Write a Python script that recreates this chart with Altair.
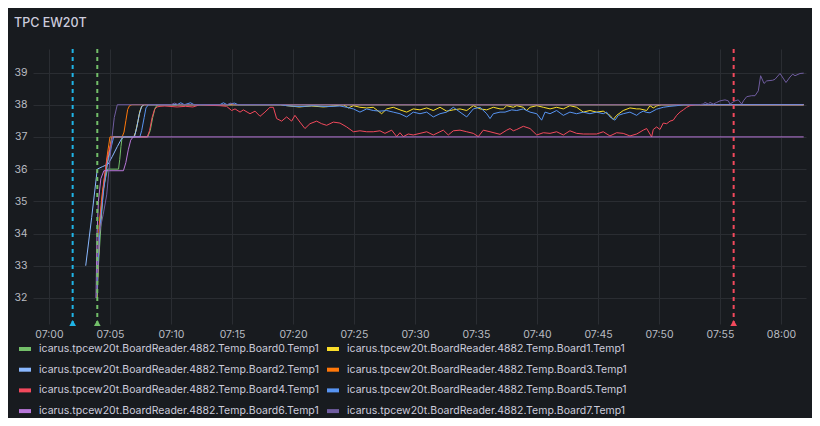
import altair as alt
import pandas as pd

# ---------------- data ----------------
series_names = [
    "icarus.tpcew20t.BoardReader.4882.Temp.Board0.Temp1",
    "icarus.tpcew20t.BoardReader.4882.Temp.Board1.Temp1",
    "icarus.tpcew20t.BoardReader.4882.Temp.Board2.Temp1",
    "icarus.tpcew20t.BoardReader.4882.Temp.Board3.Temp1",
    "icarus.tpcew20t.BoardReader.4882.Temp.Board4.Temp1",
    "icarus.tpcew20t.BoardReader.4882.Temp.Board5.Temp1",
    "icarus.tpcew20t.BoardReader.4882.Temp.Board6.Temp1",
    "icarus.tpcew20t.BoardReader.4882.Temp.Board7.Temp1",
]
series_colors = ["#73bf69", "#fade2a", "#8ab8ff", "#ff780a",
                 "#f2495c", "#5794f2", "#b877d9", "#705da0"]

# (minutes after 07:00, temperature)
board0 = [(3.95, 32.0), (4.05, 33.0), (4.25, 34.2), (4.45, 35.4), (4.8, 36.0), (5.7, 36.0),
          (5.8, 36.3), (5.9, 36.7), (6.0, 37.0), (8.1, 37.0), (8.3, 37.2), (8.5, 37.6),
          (8.7, 37.9), (8.9, 38.0), (61.86, 38.0)]

board1 = [(3.92, 32.0), (4.02, 33.0), (4.15, 34.0), (4.4, 35.2), (4.7, 36.0), (5.15, 37.0),
          (6.95, 37.0), (7.1, 37.15), (7.3, 37.5), (7.45, 37.8), (7.6, 37.95), (7.8, 38.0),
          (19.0, 38.0), (19.5, 37.97), (20.5, 37.93), (21.5, 37.96), (22.5, 37.93), (23.3, 37.96),
          (24.13, 38.0), (24.54, 37.90), (24.95, 37.97), (25.49, 37.92), (26.04, 37.90),
          (26.58, 37.92), (27.27, 37.72), (27.68, 37.87), (28.22, 37.92), (28.77, 37.84),
          (29.32, 37.77), (29.86, 37.87), (30.41, 37.84), (30.96, 37.90), (31.50, 37.82),
          (32.05, 37.92), (32.60, 37.80), (33.14, 37.84), (33.69, 37.87), (34.24, 37.82),
          (34.78, 37.97), (35.33, 37.87), (35.88, 37.84), (36.42, 37.92), (36.97, 37.87),
          (37.24, 37.87), (37.52, 37.97), (38.06, 37.92), (38.34, 37.97), (38.88, 37.92),
          (39.15, 37.82), (39.43, 37.92), (39.98, 37.97), (40.52, 37.92), (41.07, 37.87),
          (41.61, 37.92), (42.16, 37.87), (42.70, 37.97), (43.25, 37.92), (43.80, 37.77),
          (44.34, 37.82), (44.89, 37.77), (45.43, 37.80), (45.98, 37.67), (46.25, 37.54),
          (46.53, 37.67), (47.07, 37.82), (47.62, 37.90), (48.17, 37.87), (48.44, 37.87),
          (48.99, 37.82), (49.26, 37.97), (49.53, 37.90), (49.81, 37.96), (50.2, 38.0),
          (61.86, 38.0)]

board2 = [(3.01, 33.0), (3.5, 34.5), (3.96, 36.0), (4.4, 36.08), (4.84, 36.15), (5.2, 36.4),
          (5.6, 36.7), (5.96, 36.95), (6.2, 37.0), (7.0, 37.0), (7.2, 37.3), (7.4, 37.7),
          (7.6, 37.95), (7.8, 38.0), (61.86, 38.0)]

board3 = [(3.9, 32.1), (4.0, 33.0), (4.1, 34.2), (4.35, 35.2), (4.6, 35.9), (4.8, 36.5),
          (5.0, 37.0), (6.0, 37.0), (6.15, 37.15), (6.3, 37.5), (6.45, 37.85), (6.6, 37.97),
          (6.8, 38.0), (61.86, 38.0)]

board4 = [(3.95, 32.2), (4.05, 33.2), (4.2, 34.5), (4.5, 35.6), (4.75, 36.3), (5.2, 37.0),
          (8.05, 37.0), (8.25, 37.2), (8.45, 37.6), (8.65, 37.85), (8.85, 37.93), (9.1, 37.95),
          (9.5, 37.96), (10.5, 37.93), (11.2, 37.95), (11.8, 37.93), (12.38, 38.0), (13.2, 37.98),
          (14.02, 37.97), (14.56, 37.95), (14.97, 37.82), (15.25, 37.87), (15.66, 37.77),
          (15.93, 37.84), (16.48, 37.72), (16.89, 37.80), (17.30, 37.64), (17.70, 37.77),
          (18.11, 37.92), (18.39, 37.92), (18.66, 37.57), (19.07, 37.49), (19.48, 37.62),
          (19.89, 37.49), (20.16, 37.67), (20.57, 37.46), (20.98, 37.26), (21.39, 37.41),
          (21.94, 37.49), (22.35, 37.41), (22.76, 37.36), (23.31, 37.46), (23.85, 37.43),
          (24.40, 37.31), (24.95, 37.16), (25.49, 37.19), (26.04, 37.16), (26.58, 37.16),
          (27.13, 37.19), (27.54, 37.11), (28.09, 37.21), (28.50, 37.01), (28.77, 37.13),
          (29.04, 37.01), (29.45, 37.09), (29.86, 37.06), (30.41, 37.11), (30.96, 37.16),
          (31.50, 37.06), (32.05, 37.16), (32.32, 37.21), (32.73, 37.06), (33.14, 37.19),
          (33.69, 37.21), (34.24, 37.16), (34.78, 37.11), (35.19, 37.01), (35.60, 37.21),
          (36.15, 37.16), (36.97, 37.08), (37.52, 37.21), (37.79, 37.26), (38.06, 37.19),
          (38.34, 37.23), (38.88, 37.33), (39.43, 37.26), (39.98, 37.06), (40.52, 37.13),
          (41.07, 37.11), (41.61, 37.16), (42.16, 37.06), (42.70, 37.19), (43.25, 37.11),
          (43.80, 37.09), (44.34, 37.09), (44.89, 37.09), (45.43, 37.16), (45.98, 37.03),
          (46.53, 37.13), (47.07, 37.11), (47.62, 37.03), (48.17, 37.09), (48.71, 37.21),
          (48.99, 37.26), (49.40, 37.0), (49.53, 37.23), (49.81, 37.31), (50.08, 37.23),
          (50.35, 37.43), (50.63, 37.41), (50.90, 37.49), (51.17, 37.52), (51.45, 37.67),
          (51.72, 37.77), (51.99, 37.84), (52.27, 37.92), (52.54, 37.97), (53.0, 38.0),
          (61.86, 38.0)]

board5 = [(3.93, 32.1), (4.03, 33.1), (4.2, 34.3), (4.5, 35.4), (4.8, 36.2), (5.3, 37.0),
          (7.45, 37.0), (7.6, 37.2), (7.8, 37.6), (7.95, 37.9), (8.15, 38.0), (10.5, 38.0),
          (10.8, 38.06), (11.1, 38.0), (11.6, 38.06), (11.9, 38.0), (14.0, 38.0), (14.3, 38.06),
          (14.6, 38.0), (15.2, 38.05), (15.5, 38.0), (19.0, 38.0), (19.48, 37.97), (20.57, 37.94),
          (21.67, 37.97), (22.76, 37.94), (23.85, 37.96), (24.40, 37.92), (24.95, 37.87),
          (25.49, 37.77), (26.04, 37.87), (26.58, 37.82), (27.13, 37.80), (27.68, 37.82),
          (28.22, 37.77), (28.77, 37.72), (29.32, 37.62), (29.86, 37.77), (30.41, 37.72),
          (30.96, 37.77), (31.50, 37.62), (32.05, 37.72), (32.60, 37.77), (33.14, 37.92),
          (33.69, 37.77), (34.24, 37.62), (34.78, 37.87), (35.33, 37.92), (35.88, 37.72),
          (36.15, 37.57), (36.42, 37.72), (36.97, 37.77), (37.38, 37.77), (37.93, 37.84),
          (38.34, 37.82), (38.88, 37.87), (39.43, 37.77), (39.98, 37.72), (40.38, 37.52),
          (40.66, 37.77), (41.07, 37.72), (41.61, 37.82), (42.16, 37.67), (42.70, 37.77),
          (43.25, 37.72), (43.80, 37.77), (44.34, 37.72), (44.89, 37.77), (45.43, 37.72),
          (45.71, 37.77), (45.98, 37.62), (46.39, 37.52), (46.67, 37.67), (47.07, 37.72),
          (47.62, 37.77), (48.17, 37.67), (48.44, 37.75), (48.71, 37.80), (48.99, 37.76),
          (49.26, 37.75), (49.80, 37.86), (50.35, 37.92), (50.90, 37.95), (51.45, 37.97),
          (52.0, 38.0), (61.86, 38.0)]

board6 = [(3.86, 32.0), (3.93, 33.9), (4.05, 35.0), (4.25, 35.7), (4.5, 35.95), (6.1, 35.95),
          (6.3, 36.2), (6.5, 36.6), (6.7, 36.9), (6.9, 37.0), (61.86, 37.0)]

board7 = [(3.87, 32.0), (3.97, 33.0), (4.05, 33.9), (4.45, 34.6), (4.73, 35.2), (4.95, 36.1),
          (5.14, 36.9), (5.35, 37.6), (5.6, 38.0), (10.0, 38.0), (10.3, 38.05), (10.6, 38.0),
          (14.6, 38.0), (14.9, 38.05), (15.2, 38.0), (53.3, 38.0), (53.63, 38.02), (53.77, 38.07),
          (54.04, 38.02), (54.18, 38.07), (54.45, 38.02), (54.73, 38.07), (55.0, 38.12),
          (55.41, 38.15), (55.68, 38.12), (55.82, 38.02), (56.23, 38.12), (56.5, 38.15),
          (56.78, 38.02), (56.92, 38.12), (57.19, 38.25), (57.6, 38.28), (57.87, 38.28),
          (58.14, 38.43), (58.33, 38.9), (58.61, 38.66), (58.83, 38.74), (59.32, 38.76),
          (59.51, 38.79), (59.92, 38.97), (60.41, 38.69), (60.74, 38.86), (60.96, 38.95),
          (61.15, 38.9), (61.56, 38.97), (61.86, 38.98)]

all_boards = [board0, board1, board2, board3, board4, board5, board6, board7]

# legend reading order (two columns, filled column by column)
legend_order = [0, 2, 4, 6, 1, 3, 5, 7]

# annotations (minutes after 07:00) and their colours
annotation_minutes = [1.94, 3.96, 56.12]
annotation_colors = ["#1fb4e6", "#73bf69", "#f2495c"]

x_tick_labels = ["07:00", "07:05", "07:10", "07:15", "07:20", "07:25", "07:30",
                 "07:35", "07:40", "07:45", "07:50", "07:55", "08:00"]
y_ticks = [32, 33, 34, 35, 36, 37, 38, 39]
x_range_minutes = [-1.31, 62.05]
y_range = [31.19, 39.73]

# ---------------- build tables ----------------
BASE_MS = pd.Timestamp("2024-01-01T07:00:00Z").value // 10**6


def to_ms(minutes):
    return int(BASE_MS + round(minutes * 60000))


rows = []
for name, pts in zip(series_names, all_boards):
    for m, v in pts:
        rows.append({"t": to_ms(m), "v": v, "series": name})
df = pd.DataFrame(rows)

ann = pd.DataFrame({"t": [to_ms(m) for m in annotation_minutes], "c": annotation_colors})

tick_ms = [to_ms(int(l[:2]) * 60 + int(l[3:]) - 7 * 60) for l in x_tick_labels]

W, H = 773, 275
LABEL = "#b9bbc2"
FONT = "Inter"

x_enc = alt.X(
    "t:T",
    scale=alt.Scale(type="utc", domain=[to_ms(x_range_minutes[0]), to_ms(x_range_minutes[1])]),
    axis=alt.Axis(values=tick_ms, labelExpr="utcFormat(datum.value, '%H:%M')", title=None,
                  labelPadding=5, labelFlush=False, labelOverlap=False),
)

lines = alt.Chart(df).mark_line(strokeWidth=1, interpolate="linear").encode(
    x=x_enc,
    y=alt.Y("v:Q", scale=alt.Scale(domain=y_range, nice=False, zero=False),
            axis=alt.Axis(values=y_ticks, title=None, format="d", labelPadding=6)),
    color=alt.Color(
        "series:N",
        scale=alt.Scale(domain=[series_names[i] for i in legend_order],
                        range=[series_colors[i] for i in legend_order]),
        legend=alt.Legend(
            orient="none", legendX=-16, legendY=292, columns=2, title=None,
            symbolType="stroke", symbolSize=144, symbolStrokeWidth=4,
            labelFontSize=10.5, labelColor="#ccccdc", labelFont=FONT, labelOffset=6,
            rowPadding=4.7, columnPadding=0, padding=0, labelLimit=0,
        ),
    ),
)

rules = alt.Chart(ann).mark_rule(strokeDash=[4, 4], strokeWidth=2).encode(
    x="t:T",
    stroke=alt.Stroke("c:N", scale=None),
)

tris = alt.Chart(ann).mark_point(shape="triangle-up", filled=True, size=45, opacity=1).encode(
    x="t:T",
    y=alt.value(H - 1),
    fill=alt.Fill("c:N", scale=None),
)

chart = alt.layer(lines, rules, tris).properties(
    width=W,
    height=H,
    padding={"left": 25, "top": 41, "right": 6, "bottom": 94},
    autosize=alt.AutoSizeParams(type="none"),
    title=alt.TitleParams(
        "TPC EW20T", anchor="start", frame="group", fontSize=12.5, fontWeight=500,
        color="#ccccdc", font=FONT, dx=-19, offset=9, baseline="alphabetic",
    ),
).configure(
    background="#181b1f",
).configure_view(
    stroke=None,
).configure_axis(
    grid=True, gridColor="#2a2d32", gridWidth=1, domain=False, ticks=False,
    labelFont=FONT, labelFontSize=10.5, labelColor=LABEL,
)

chart.save("out.html", embed_options={"renderer": "svg", "actions": False})
